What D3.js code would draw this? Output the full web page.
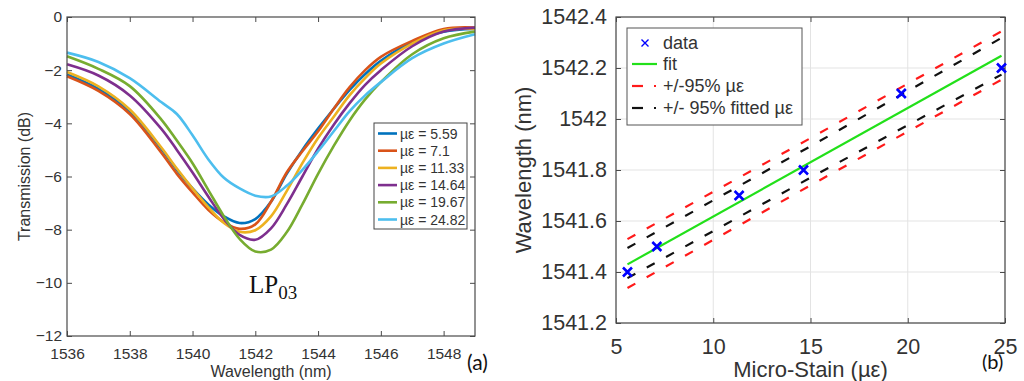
<!DOCTYPE html>
<html>
<head>
<meta charset="utf-8">
<script src="https://cdn.jsdelivr.net/npm/d3@7"></script>
<style>
  body { margin: 0; background: #fff; }
  svg { display: block; font-family: "Liberation Sans", Arial, sans-serif; }
</style>
</head>
<body>
<svg id="chart" width="1024" height="381"></svg>
<script>
// ---- panel (a): transmission spectra ----
const wavelengths = [1536, 1537, 1538, 1539, 1539.5, 1540, 1540.5, 1541, 1541.5, 1542, 1542.5,
  1543, 1543.5, 1544, 1544.5, 1545, 1545.5, 1546, 1547, 1548, 1549];
const strainLabels = ["µε = 5.59", "µε = 7.1", "µε = 11.33", "µε = 14.64", "µε = 19.67", "µε = 24.82"];
const spectraColors = ["#0072BD", "#D95319", "#EDB120", "#7E2F8E", "#77AC30", "#4DBEEE"];
const trans559 = [-2.16, -2.70, -3.55, -4.95, -5.75, -6.45, -7.05, -7.50, -7.75, -7.60, -6.95, -5.90, -5.00, -4.20, -3.45, -2.75, -2.15, -1.65, -0.95, -0.55, -0.45];
const trans71 = [-2.23, -2.78, -3.65, -5.10, -5.90, -6.60, -7.25, -7.72, -7.97, -7.80, -6.95, -5.85, -5.05, -4.30, -3.45, -2.65, -2.00, -1.50, -0.90, -0.45, -0.40];
const trans1133 = [-2.07, -2.61, -3.48, -4.90, -5.70, -6.45, -7.15, -7.75, -8.08, -8.02, -7.50, -6.55, -5.50, -4.55, -3.75, -2.95, -2.30, -1.75, -1.00, -0.50, -0.45];
const trans1464 = [-1.78, -2.20, -2.95, -4.20, -5.00, -5.85, -6.75, -7.60, -8.20, -8.38, -7.95, -7.05, -6.00, -4.95, -4.05, -3.25, -2.55, -2.00, -1.10, -0.55, -0.40];
const trans1967 = [-1.48, -1.95, -2.60, -3.85, -4.65, -5.50, -6.50, -7.50, -8.35, -8.82, -8.75, -8.10, -7.05, -5.90, -4.85, -3.90, -3.10, -2.45, -1.40, -0.80, -0.55];
const trans2482 = [-1.34, -1.69, -2.30, -3.20, -3.65, -4.45, -5.35, -6.05, -6.45, -6.72, -6.75, -6.35, -5.75, -5.05, -4.30, -3.55, -2.95, -2.45, -1.55, -1.00, -0.65];
const spectra = [trans559, trans71, trans1133, trans1464, trans1967, trans2482];
const xTicksA = [1536, 1538, 1540, 1542, 1544, 1546, 1548];
const yTicksA = [0, -2, -4, -6, -8, -10, -12];

// ---- panel (b): wavelength vs strain ----
const strain = [5.59, 7.1, 11.33, 14.64, 19.67, 24.82];
const peakWl = [1541.4, 1541.5, 1541.7, 1541.8, 1542.1, 1542.2];
const fitX = [5.59, 24.82];
const fitY = [1541.43, 1542.248];
const boundX = [5.59, 15, 24.82];
const redUpper = [1541.529, 1541.925, 1542.344];
const redLower = [1541.337, 1541.740, 1542.154];
const blackUpper = [1541.494, 1541.893, 1542.318];
const blackLower = [1541.376, 1541.770, 1542.174];
const xTicksB = [5, 10, 15, 20, 25];
const yTicksB = [1541.2, 1541.4, 1541.6, 1541.8, 1542, 1542.2, 1542.4];

const svg = d3.select("#chart");
const axisColor = "#4a4a4a";
const textColor = "#333";

// ================= panel (a) =================
const xA = d3.scaleLinear().domain([1536, 1549]).range([67, 475]);
const yA = d3.scaleLinear().domain([-12, 0]).range([336, 17]);

const gA = svg.append("g");

function styleAxis(g, size) {
  g.select(".domain").remove();
  g.selectAll(".tick line").attr("stroke", axisColor);
  g.selectAll(".tick text").attr("fill", textColor).style("font-size", size + "px")
    .style("font-family", "'Liberation Sans', Arial, sans-serif");
}

gA.append("g").attr("transform", `translate(0,${yA(-12)})`)
  .call(d3.axisBottom(xA).tickValues(xTicksA).tickSize(-5).tickPadding(12).tickFormat(d3.format("d")))
  .call(g => styleAxis(g, 15.5));
gA.append("g").attr("transform", `translate(0,${yA(0)})`)
  .call(d3.axisTop(xA).tickValues(xTicksA).tickSize(-5).tickFormat(""))
  .call(g => styleAxis(g, 15.5));
gA.append("g").attr("transform", `translate(${xA(1536)},0)`)
  .call(d3.axisLeft(yA).tickValues(yTicksA).tickSize(-5).tickPadding(5).tickFormat(d3.format("d")))
  .call(g => styleAxis(g, 15.5));
gA.append("g").attr("transform", `translate(${xA(1549)},0)`)
  .call(d3.axisRight(yA).tickValues(yTicksA).tickSize(-5).tickFormat(""))
  .call(g => styleAxis(g, 15.5));

const lineA = d3.line()
  .x((d, i) => xA(wavelengths[i]))
  .y(d => yA(d))
  .curve(d3.curveCatmullRom.alpha(0.5));

spectra.forEach((s, i) => {
  gA.append("path")
    .attr("d", lineA(s))
    .attr("fill", "none")
    .attr("stroke", spectraColors[i])
    .attr("stroke-width", 2.6)
    .attr("stroke-linejoin", "round");
});

gA.append("rect")
  .attr("x", xA(1536)).attr("y", yA(0))
  .attr("width", xA(1549) - xA(1536)).attr("height", yA(-12) - yA(0))
  .attr("fill", "none").attr("stroke", axisColor).attr("stroke-width", 1.2);

// legend (a)
const legA = gA.append("g").attr("transform", "translate(374,123)");
legA.append("rect").attr("width", 93).attr("height", 106)
  .attr("fill", "#fff").attr("stroke", "#444").attr("stroke-width", 1);
strainLabels.forEach((lab, i) => {
  const yy = 10.5 + i * 17.2;
  legA.append("line").attr("x1", 4).attr("x2", 23).attr("y1", yy).attr("y2", yy)
    .attr("stroke", spectraColors[i]).attr("stroke-width", 2.6);
  legA.append("text").attr("x", 26).attr("y", yy).attr("dy", "0.36em")
    .attr("fill", textColor).style("font-size", "14px").text(lab);
});

// axis labels (a)
gA.append("text")
  .attr("transform", `translate(30,${(yA(0) + yA(-12)) / 2}) rotate(-90)`)
  .attr("text-anchor", "middle").attr("fill", textColor)
  .style("font-size", "16px").text("Transmission (dB)");
gA.append("text")
  .attr("x", (xA(1536) + xA(1549)) / 2).attr("y", 377)
  .attr("text-anchor", "middle").attr("fill", textColor)
  .style("font-size", "16px").text("Wavelength (nm)");

// LP03 annotation
const lp = gA.append("text").attr("x", 249).attr("y", 293)
  .attr("fill", "#111").style("font-family", "'Liberation Serif', 'DejaVu Serif', serif")
  .style("font-size", "25px");
lp.append("tspan").text("LP");
lp.append("tspan").attr("dy", 6).style("font-size", "19px").text("03");

gA.append("text").attr("x", 467).attr("y", 370).attr("fill", "#111")
  .style("font-family", "Lato, 'Open Sans', sans-serif").style("font-size", "21px").text("(a)");

// ================= panel (b) =================
const xB = d3.scaleLinear().domain([5, 25]).range([616, 1005]);
const yB = d3.scaleLinear().domain([1541.2, 1542.4]).range([323, 17]);

const gB = svg.append("g");

// grid
gB.append("g").selectAll("line").data(xTicksB).join("line")
  .attr("x1", d => xB(d)).attr("x2", d => xB(d)).attr("y1", yB(1541.2)).attr("y2", yB(1542.4))
  .attr("stroke", "#e3e3e3").attr("stroke-width", 1);
gB.append("g").selectAll("line").data(yTicksB).join("line")
  .attr("x1", xB(5)).attr("x2", xB(25)).attr("y1", d => yB(d)).attr("y2", d => yB(d))
  .attr("stroke", "#e3e3e3").attr("stroke-width", 1);

gB.append("g").attr("transform", `translate(0,${yB(1541.2)})`)
  .call(d3.axisBottom(xB).tickValues(xTicksB).tickSize(-5).tickPadding(16).tickFormat(d3.format("d")))
  .call(g => styleAxis(g, 21.5));
gB.append("g").attr("transform", `translate(0,${yB(1542.4)})`)
  .call(d3.axisTop(xB).tickValues(xTicksB).tickSize(-5).tickFormat(""))
  .call(g => styleAxis(g, 21.5));
gB.append("g").attr("transform", `translate(${xB(5)},0)`)
  .call(d3.axisLeft(yB).tickValues(yTicksB).tickSize(-5).tickPadding(9).tickFormat(d => d3.format("")(+d.toFixed(1))))
  .call(g => styleAxis(g, 21.5));
gB.append("g").attr("transform", `translate(${xB(25)},0)`)
  .call(d3.axisRight(yB).tickValues(yTicksB).tickSize(-5).tickFormat(""))
  .call(g => styleAxis(g, 21.5));

gB.append("rect")
  .attr("x", xB(5)).attr("y", yB(1542.4))
  .attr("width", xB(25) - xB(5)).attr("height", yB(1541.2) - yB(1542.4))
  .attr("fill", "none").attr("stroke", axisColor).attr("stroke-width", 1.2);

const lineB = d3.line().x(d => xB(d[0])).y(d => yB(d[1]));

function bound(vals, color) {
  gB.append("path")
    .attr("d", lineB(boundX.map((x, i) => [x, vals[i]])))
    .attr("fill", "none").attr("stroke", color).attr("stroke-width", 2.2)
    .attr("stroke-dasharray", "9,13");
}
bound(redUpper, "#ff1a1a");
bound(redLower, "#ff1a1a");
bound(blackUpper, "#111");
bound(blackLower, "#111");

gB.append("path")
  .attr("d", lineB(fitX.map((x, i) => [x, fitY[i]])))
  .attr("fill", "none").attr("stroke", "#22e01a").attr("stroke-width", 2.2);

function cross(g, cx, cy, r, w) {
  g.append("path")
    .attr("d", `M${cx - r},${cy - r}L${cx + r},${cy + r}M${cx - r},${cy + r}L${cx + r},${cy - r}`)
    .attr("stroke", "#0000ff").attr("stroke-width", w).attr("fill", "none");
}
strain.forEach((s, i) => cross(gB, xB(s), yB(peakWl[i]), 4.5, 2.6));

// legend (b)
const legB = gB.append("g").attr("transform", "translate(627,28)");
legB.append("rect").attr("width", 175).attr("height", 97)
  .attr("fill", "#fff").attr("stroke", "#555").attr("stroke-width", 1);
const legItems = ["data", "fit", "+/-95% µε", "+/- 95% fitted µε"];
const legY = [15, 36, 58, 80];
legItems.forEach((lab, i) => {
  legB.append("text").attr("x", 36).attr("y", legY[i]).attr("dy", "0.36em")
    .attr("fill", textColor).style("font-size", "18px").text(lab);
});
cross(legB, 18, legY[0], 3.5, 1.4);
legB.append("line").attr("x1", 5).attr("x2", 30).attr("y1", legY[1]).attr("y2", legY[1])
  .attr("stroke", "#22e01a").attr("stroke-width", 2.2);
[["#ff1a1a", legY[2]], ["#111", legY[3]]].forEach(([c, yy]) => {
  legB.append("line").attr("x1", 5).attr("x2", 16).attr("y1", yy).attr("y2", yy)
    .attr("stroke", c).attr("stroke-width", 2.2);
  legB.append("line").attr("x1", 27).attr("x2", 29).attr("y1", yy).attr("y2", yy)
    .attr("stroke", c).attr("stroke-width", 2.2);
});

// axis labels (b)
gB.append("text")
  .attr("transform", `translate(531,${(yB(1541.2) + yB(1542.4)) / 2}) rotate(-90)`)
  .attr("text-anchor", "middle").attr("fill", textColor)
  .style("font-size", "22px").text("Wavelength (nm)");
gB.append("text")
  .attr("x", (xB(5) + xB(25)) / 2).attr("y", 377)
  .attr("text-anchor", "middle").attr("fill", textColor)
  .style("font-size", "22px").text("Micro-Stain (µε)");

gB.append("text").attr("x", 982).attr("y", 369).attr("fill", "#111")
  .style("font-family", "Lato, 'Open Sans', sans-serif").style("font-size", "20px").text("(b)");
</script>
</body>
</html>
